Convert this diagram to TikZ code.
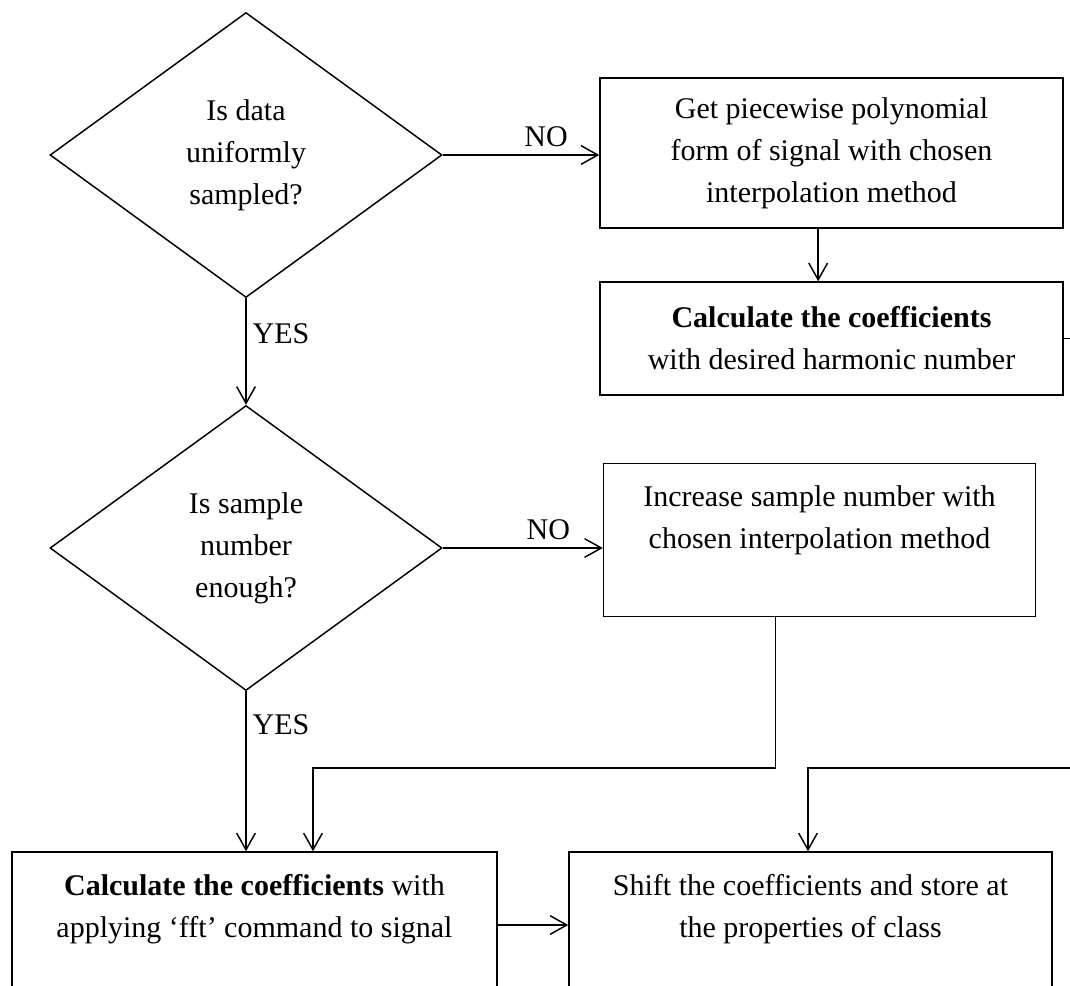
\documentclass[tikz,border=0pt]{standalone}
\usepackage{fontspec}
\setmainfont{Liberation Serif}
\usepackage{tikz}
\usetikzlibrary{shapes.geometric}
\usetikzlibrary{arrows.meta}
\usetikzlibrary{positioning}

\begin{document}
\begin{tikzpicture}[x=0.75pt, y=-0.75pt, line width=1.1pt,
    font=\fontsize{22.5}{31.5}\selectfont,
    decision/.style={draw, diamond, inner sep=0pt, align=center,
      minimum width=294pt, minimum height=213.75pt},
    box/.style={draw, rectangle, inner sep=0pt, align=center},
    boxtext/.style={inner sep=0pt, align=center},
    flow/.style={-{Straight Barb[length=12.5pt, width=14pt]}},
    nolabel/.style={above, inner sep=5.5pt},
    yeslabel/.style={right, inner sep=4.5pt}]
  % Frame (the picture is cut at the right and at the bottom)
  \useasboundingbox (0,0) rectangle (1070,985);
  \clip (0,0) rectangle (1070,985);

  % Decisions
  \node[decision] (qUni) at (246,155) {Is data\\uniformly\\sampled?};
  \node[decision] (qNum) at (246,548) {Is sample\\number\\enough?};

  % Boxes, right column
  \node[box, minimum width=347.25pt, minimum height=112.5pt] (getPoly) at (831.5,153)
    {Get piecewise polynomial\\form of signal with chosen\\interpolation method};
  \node[box, minimum width=347.25pt, minimum height=84.75pt] (calcHarm) at (831.5,338.5)
    {\textbf{Calculate the coefficients}\\with desired harmonic number};
  \node[box, minimum width=324pt, minimum height=114.75pt] (incSample) at (819.5,540) {};
  \node[boxtext, below=17pt of incSample.north] (incSampleTxt)
    {Increase sample number with\\chosen interpolation method};

  % Boxes, bottom row
  \node[box, minimum width=363.75pt, minimum height=109.5pt] (calcFft) at (254.5,925) {};
  \node[boxtext, below=17pt of calcFft.north] (calcFftTxt)
    {\textbf{Calculate the coefficients} with\\applying `fft' command to signal};
  \node[box, minimum width=362.25pt, minimum height=109.5pt] (shiftCoef) at (810.5,925) {};
  \node[boxtext, below=17pt of shiftCoef.north] (shiftCoefTxt)
    {Shift the coefficients and store at\\the properties of class};

  % Bends and free ends
  \coordinate (joinL) at (313,768);
  \coordinate (joinR) at (808,768);
  \coordinate (offHarm) at (1090,338.5);
  \coordinate (offBack) at (1090,768);

  % Connectors
  \draw[flow] (qUni.east) -- node[pos=0.66, nolabel] (noUni) {NO} (qUni.east -| getPoly.west);
  \draw[flow] ([xshift=-10pt]getPoly.south) -- ([xshift=-10pt]calcHarm.north);
  \draw (calcHarm.east) -- (offHarm);
  \draw[flow] (qUni.south) -- node[pos=0.33, yeslabel] (yesUni) {YES} (qNum.north);
  \draw[flow] (qNum.east) -- node[pos=0.66, nolabel] (noNum) {NO} (qNum.east -| incSample.west);
  \draw[flow] (qNum.south) -- node[pos=0.21, yeslabel] (yesNum) {YES} (qNum.south |- calcFft.north);
  \draw[flow] ([xshift=-33pt]incSample.south) |- (joinL) -- (joinL |- calcFft.north);
  \draw[flow] (calcFft.east) -- (shiftCoef.west);
  \draw[flow] (offBack) -- (joinR) -- (joinR |- shiftCoef.north);
\end{tikzpicture}
\end{document}
